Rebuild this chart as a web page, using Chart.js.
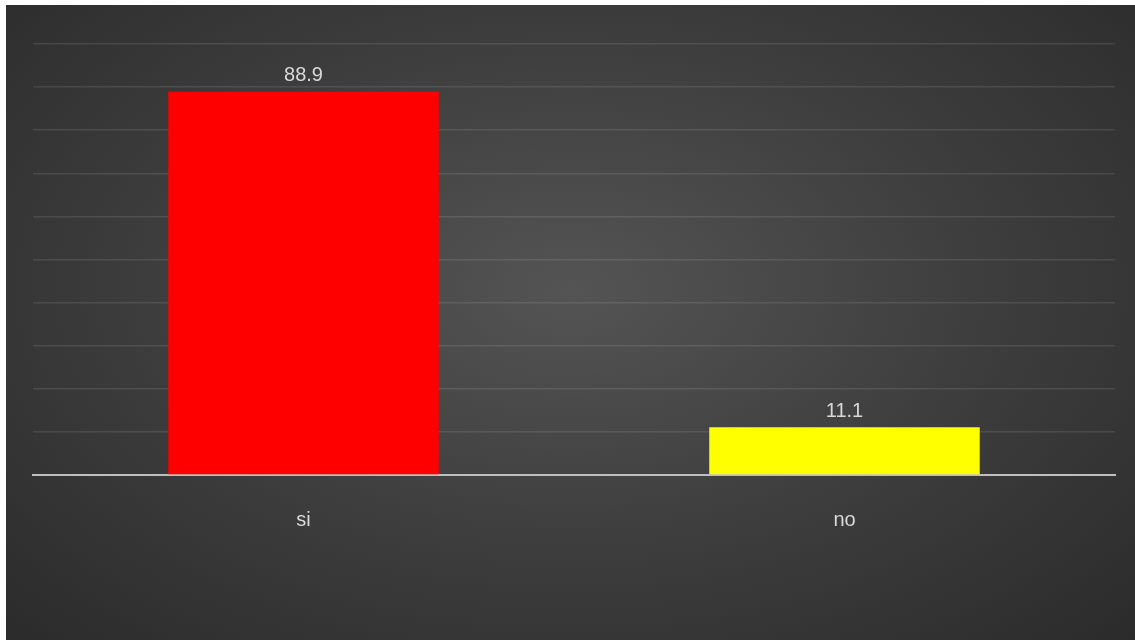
<!DOCTYPE html>
<html>
<head>
<meta charset="utf-8">
<script src="https://cdn.jsdelivr.net/npm/chart.js@4/dist/chart.umd.min.js"></script>
<style>
  html, body { margin: 0; padding: 0; background: #fff; }
  #wrap {
    position: absolute; left: 6px; top: 5px; width: 1129px; height: 635px;
    background: radial-gradient(ellipse at 50% 45%, #545454 0%, #3c3c3c 55%, #2b2b2b 100%);
  }
</style>
</head>
<body>
<div id="wrap"><canvas id="chart" width="1129" height="635"></canvas></div>
<script>
const categories = ['si', 'no'];
const values = [88.9, 11.1];
const barColors = ['#ff0000', '#ffff00'];

const valueLabels = {
  id: 'valueLabels',
  afterDatasetsDraw(chart) {
    const ctx = chart.ctx;
    ctx.save();
    ctx.font = '20px "Liberation Sans Narrow", "Liberation Sans", sans-serif';
    ctx.fillStyle = '#d9d9d9';
    ctx.textAlign = 'center';
    ctx.textBaseline = 'bottom';
    chart.getDatasetMeta(0).data.forEach((bar, i) => {
      ctx.fillText(values[i].toFixed(1), bar.x, bar.y - 6);
    });
    ctx.restore();
  }
};

new Chart(document.getElementById('chart'), {
  type: 'bar',
  data: {
    labels: categories,
    datasets: [{
      data: values,
      backgroundColor: barColors,
      borderWidth: 0,
      barPercentage: 1,
      categoryPercentage: 0.5
    }]
  },
  options: {
    responsive: false,
    animation: false,
    layout: { padding: { left: 27, right: 20, top: 39, bottom: 0 } },
    plugins: { legend: { display: false }, tooltip: { enabled: false } },
    scales: {
      y: {
        min: 0, max: 100,
        ticks: { display: false, stepSize: 10 },
        grid: { color: 'rgba(255,255,255,0.10)', lineWidth: 1.5, drawTicks: false },
        border: { display: false },
        afterFit(scale) { scale.width = 0; }
      },
      x: {
        grid: { display: false, drawTicks: false },
        border: { color: '#bfbfbf', width: 2 },
        ticks: {
          color: '#d9d9d9',
          padding: 33,
          font: { family: '"Liberation Sans Narrow", "Liberation Sans", sans-serif', size: 20 }
        },
        afterFit(scale) { scale.height = 165; }
      }
    }
  },
  plugins: [valueLabels]
});
</script>
</body>
</html>
